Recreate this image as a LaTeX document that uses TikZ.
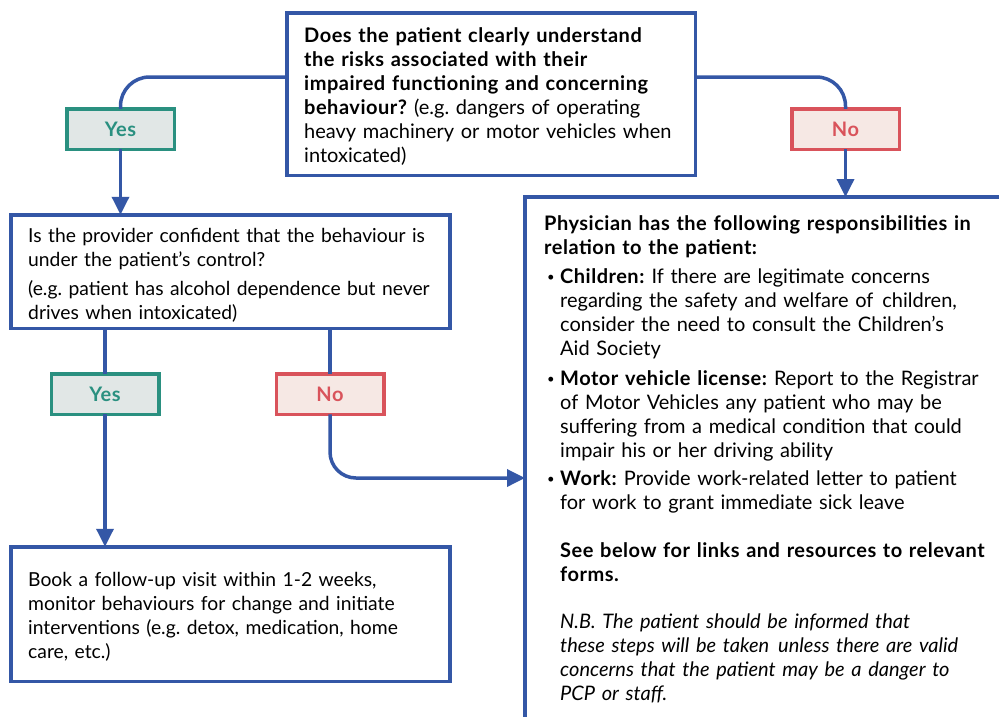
\documentclass[tikz,border=0pt]{standalone}
\usepackage{fontspec}
\setmainfont{Lato}[BoldFeatures={LetterSpace=2.5}]
\usetikzlibrary{arrows.meta}
\definecolor{bl}{HTML}{3457A6}
\definecolor{gr}{HTML}{2A9080}
\definecolor{grf}{HTML}{E1E7E6}
\definecolor{rd}{HTML}{D9535B}
\definecolor{rdf}{HTML}{F6E8E4}
\tikzset{
  box/.style={draw=bl, line width=3.5pt, fill=white, inner sep=0pt, outer sep=0pt},
  yesbox/.style={draw=gr, fill=grf, line width=3.5pt, minimum width=107.5pt, minimum height=40.5pt,
    inner sep=0pt, outer sep=0pt, text=gr, font=\fontsize{20}{22}\selectfont\bfseries},
  nobox/.style={yesbox, draw=rd, fill=rdf, text=rd},
  conn/.style={draw=bl, line width=3.5pt},
  arr/.style={conn, -{Triangle[length=18pt,width=17pt]}},
  txt/.style={inner sep=0pt, anchor=north west, text width=480pt,
    font=\fontsize{20}{24.1}\selectfont\frenchspacing},
  txtsm/.style={txt, font=\fontsize{19.3}{24.1}\selectfont\frenchspacing}
}
\newcommand{\st}{\rule{0pt}{16pt}}
\newcommand{\bul}{\hangindent=16pt\hangafter=1\noindent\st\hspace*{3pt}\makebox[13pt][l]{\raisebox{1.5pt}{\fontsize{13}{13}\selectfont•}}}
\begin{document}
\begin{tikzpicture}[x=1pt,y=-1pt]
\useasboundingbox (0,0) rectangle (999,716);
\fill[white] (0,0) rectangle (999,716);

% boxes
\node[box, minimum width=408.5pt, minimum height=162.5pt] (q1) at (491,94) {};
\node[yesbox] (yes1) at (120.5,129) {Yes};
\node[nobox] (no1) at (845.5,129) {No};
\node[box, minimum width=439pt, minimum height=113.5pt] (q2) at (230.5,271.5) {};
\node[yesbox] (yes2) at (105,394) {Yes};
\node[nobox] (no2) at (330,394) {No};
\node[box, minimum width=439pt, minimum height=134.5pt] (q3) at (230.5,614) {};
\node[box, anchor=north west, minimum width=520pt, minimum height=562pt] (rb) at (525,197) {};

% texts
\node[txt] (q1t) at (304,26)
 {\noindent\st\textbf{Does the patient clearly understand}\newline
  \textbf{the risks associated with their}\newline
  \textbf{impaired functioning and concerning}\newline
  \textbf{behaviour?} (e.g. dangers of operating\newline
  heavy machinery or motor vehicles when\newline
  intoxicated)\par};

\node[txtsm] (q2a) at (28,226)
 {\noindent\st Is the provider confident that the behaviour is\newline
  under the patient’s control?\par};
\node[txtsm] (q2b) at (28,279)
 {\noindent\st(e.g. patient has alcohol dependence but never\newline
  drives when intoxicated)\par};

\node[txtsm] (q3t) at (28,570)
 {\noindent\st Book a follow-up visit within 1-2 weeks,\newline
  monitor behaviours for change and initiate\newline
  interventions (e.g. detox, medication, home\newline
  care, etc.)\par};

\node[txt] (r1) at (544,214)
 {\noindent\st\textbf{Physician has the following responsibilities in}\newline
  \textbf{relation to the patient:}\par};
\node[txt] (r2) at (544,267)
 {\bul\textbf{Children:} If there are legitimate concerns\newline
  regarding the safety and welfare of\hspace{9pt}children,\newline
  consider the need to consult the Children’s\newline
  Aid Society\par};
\node[txt] (r3) at (544,369)
 {\bul\textbf{Motor vehicle license:} Report to the Registrar\newline
  of Motor Vehicles any patient who may be\newline
  suffering from a medical condition that could\newline
  impair his or her driving ability\par};
\node[txt] (r4) at (544,469)
 {\bul\textbf{Work:} Provide work-related letter to patient\newline
  for work to grant immediate sick leave\par};
\node[txt] (r5) at (560,541)
 {\noindent\st\textbf{See below for links and resources to relevant}\newline
  \textbf{forms.}\par};
\node[txt] (r6) at (560,612)
 {\noindent\st\itshape N.B. The patient should be informed that\newline
  these steps will be taken\hspace{9pt}unless there are valid\newline
  concerns that the patient may be a danger to\newline
  PCP or staff.\par};

% connectors
\draw[conn, rounded corners=29pt] (q1.west |- 0,77) -| (yes1.north);
\draw[arr] (yes1.south) -- (yes1.south |- q2.north);
\draw[conn, rounded corners=29pt] (q1.east |- 0,77) -| (no1.north);
\draw[arr] (no1.south) -- (no1.south |- rb.north);
\draw[conn] (yes2.north |- q2.south) -- (yes2.north);
\draw[arr] (yes2.south) -- (yes2.south |- q3.north);
\draw[conn] (no2.north |- q2.south) -- (no2.north);
\draw[arr, rounded corners=26pt] (no2.south) |- (rb.west);
\end{tikzpicture}
\end{document}
